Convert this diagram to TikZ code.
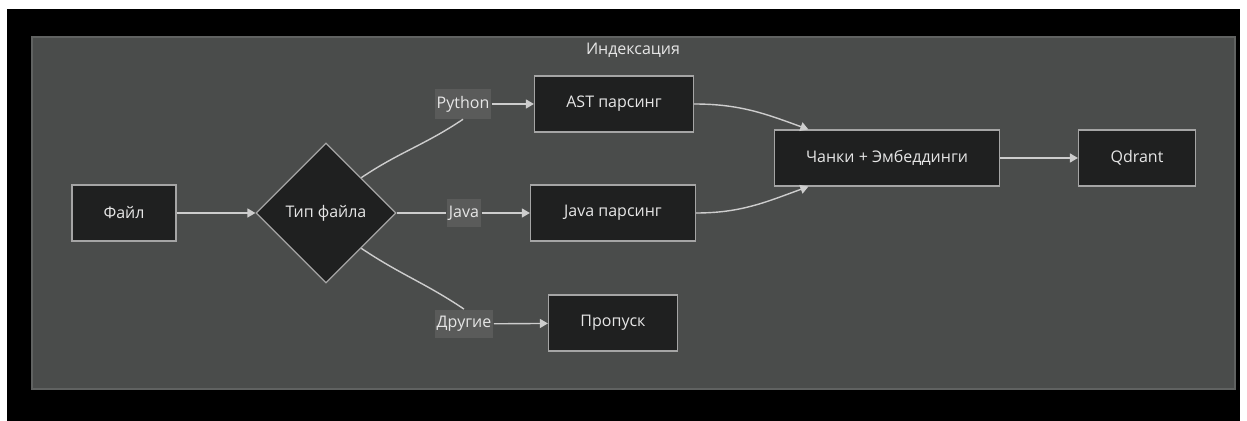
\documentclass[tikz,border=0pt]{standalone}
\usepackage{fontspec}
\setmainfont{Open Sans}
\usetikzlibrary{arrows.meta,shapes.geometric}
\definecolor{panel_gray}{RGB}{74,76,75}
\definecolor{panel_line}{RGB}{96,98,97}
\definecolor{node_fill}{RGB}{31,32,32}
\definecolor{node_line}{RGB}{165,165,165}
\definecolor{text_gray}{RGB}{230,230,230}
\definecolor{label_gray}{RGB}{90,91,90}
\definecolor{edge_gray}{RGB}{205,205,205}

\begin{document}
\begin{tikzpicture}[x=0.5pt,y=-0.5pt,->,>={Triangle[length=4pt,width=4.5pt]},semithick]
    \tikzstyle{box}=[draw=node_line, fill=node_fill, rectangle, minimum height=28pt, text=text_gray, font=\fontsize{8}{10}\selectfont]
    \tikzstyle{choice}=[draw=node_line, fill=node_fill, diamond, minimum width=70pt, minimum height=70pt, inner sep=0pt, text=text_gray, font=\fontsize{8}{10}\selectfont]
    \tikzstyle{lbl}=[fill=label_gray, inner xsep=1pt, minimum height=12.5pt, text=text_gray, font=\fontsize{8}{10}\selectfont]
    \tikzstyle{flow}=[draw=edge_gray, line width=0.7pt]

    \useasboundingbox[fill=white] (0,0) rectangle (1247,421);
    \fill[black] (7,9) rectangle (1240,421);
    \draw[-, draw=panel_line, fill=panel_gray, line width=0.8pt] (32,37) rectangle (1235,389);
    \node[text=text_gray, font=\fontsize{8}{10}\selectfont] (title) at (633,50) {Индексация};

    \node[box, minimum width=52pt]   (file)  at (124,213)  {Файл};
    \node[choice]                    (type)  at (326,213)  {Тип файла};
    \node[box, minimum width=79.5pt] (ast)   at (614,104)  {AST парсинг};
    \node[box, minimum width=82.5pt] (javap) at (613,213)  {Java парсинг};
    \node[box, minimum width=64.5pt] (skip)  at (613,323)  {Пропуск};
    \node[box, minimum width=112.5pt](chunk) at (887,158)  {Чанки + Эмбеддинги};
    \node[box, minimum width=58.5pt] (qd)    at (1137,158) {Qdrant};

    \node[lbl] (py)  at (463,104) {Python};
    \node[lbl] (jv)  at (464,213) {Java};
    \node[lbl] (oth) at (464,324) {Другие};

    \path
     (file) edge[flow] (type)
     (type.north east) edge[flow, -, out=34, in=214] (py.south)
     (py) edge[flow] (ast)
     (type) edge[flow, -] (jv)
     (jv) edge[flow] (javap)
     (type.south east) edge[flow, -, out=-34, in=146] (oth.north)
     (oth) edge[flow] (skip)
     (ast.east) edge[flow, out=0, in=160] (chunk.160)
     (javap.east) edge[flow, out=0, in=200] (chunk.200)
     (chunk) edge[flow] (qd)
     ;
\end{tikzpicture}
\end{document}
